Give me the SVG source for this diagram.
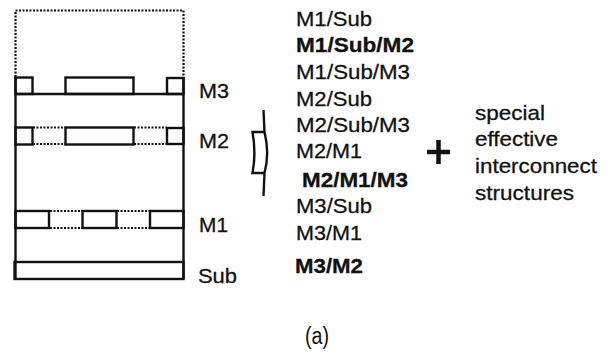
<svg xmlns="http://www.w3.org/2000/svg" width="610" height="352" viewBox="0 0 610 352">
<style>
text{font-family:"Liberation Sans",Arial,sans-serif;fill:#111;font-size:21px;stroke:#111;stroke-width:.3}
.b{font-weight:bold}
.s{fill:none;stroke:#111;stroke-width:2.400}
.d{fill:none;stroke:#111;stroke-width:2.200;stroke-dasharray:2 1.500}
</style>
<rect width="610" height="352" fill="#fff"/>
<g id="stack">
<path class="d" d="M15.500 77V10.500H183.500V77"/>
<path class="s" d="M15.500 77V279M183.500 77V279"/>
<path class="s" d="M15.500 94H183.500"/>
<g id="M3-layer"><rect class="s" x="15.500" y="77.500" width="17" height="16.500"/><rect class="s" x="65.500" y="77.500" width="68" height="16.500"/><rect class="s" x="167" y="78" width="16.500" height="16"/></g>
<g id="M2-layer"><path class="d" d="M33 127.500H65M33 144H65M134 127.500H167M134 144H167"/><rect class="s" x="15.500" y="127.500" width="17" height="17"/><rect class="s" x="65.500" y="127.500" width="68" height="17"/><rect class="s" x="167" y="128" width="16.500" height="16"/></g>
<g id="M1-layer"><path class="d" d="M50 211H82M50 228H82M117 211H150M117 228H150"/><rect class="s" x="15.500" y="211" width="33.500" height="17"/><rect class="s" x="82.500" y="211" width="34" height="17"/><rect class="s" x="150" y="211" width="33.500" height="17"/></g>
<g id="Sub-layer"><rect class="s" x="14.500" y="262" width="169" height="17"/></g>
</g>
<g id="labels">
<text x="199" y="98" textLength="30" lengthAdjust="spacingAndGlyphs">M3</text>
<text x="199" y="148" textLength="30" lengthAdjust="spacingAndGlyphs">M2</text>
<text x="199" y="232" textLength="29" lengthAdjust="spacingAndGlyphs">M1</text>
<text x="198" y="283" textLength="39" lengthAdjust="spacingAndGlyphs">Sub</text>
</g>
<g id="arrow">
<path class="s" d="M263.500 110L264.500 132H252.500C255 146 255 160 252.500 173H264.500L263.500 196M264.500 132C268 146 268 160 264.500 173"/>
</g>
<g id="list">
<text x="296" y="26" textLength="76" lengthAdjust="spacingAndGlyphs">M1/Sub</text>
<text class="b" x="296" y="52" textLength="118" lengthAdjust="spacingAndGlyphs">M1/Sub/M2</text>
<text x="296" y="79" textLength="114" lengthAdjust="spacingAndGlyphs">M1/Sub/M3</text>
<text x="296" y="106" textLength="76" lengthAdjust="spacingAndGlyphs">M2/Sub</text>
<text x="296" y="132" textLength="114" lengthAdjust="spacingAndGlyphs">M2/Sub/M3</text>
<text x="296" y="158" textLength="66" lengthAdjust="spacingAndGlyphs">M2/M1</text>
<text class="b" x="302" y="187" textLength="106" lengthAdjust="spacingAndGlyphs">M2/M1/M3</text>
<text x="296" y="213" textLength="76" lengthAdjust="spacingAndGlyphs">M3/Sub</text>
<text x="296" y="240" textLength="66" lengthAdjust="spacingAndGlyphs">M3/M1</text>
<text class="b" x="295" y="273" textLength="68" lengthAdjust="spacingAndGlyphs">M3/M2</text>
</g>
<g id="plus"><path d="M427 152H450M438.500 140V164" fill="none" stroke="#111" stroke-width="4.500"/></g>
<g id="note">
<text x="475" y="120" textLength="70" lengthAdjust="spacingAndGlyphs">special</text>
<text x="475" y="146" textLength="83" lengthAdjust="spacingAndGlyphs">effective</text>
<text x="475" y="173" textLength="122" lengthAdjust="spacingAndGlyphs">interconnect</text>
<text x="475" y="200" textLength="99" lengthAdjust="spacingAndGlyphs">structures</text>
</g>
<text id="caption" x="305" y="344" style="font-size:23px;stroke-width:0" textLength="24" lengthAdjust="spacingAndGlyphs">(a)</text>
</svg>
